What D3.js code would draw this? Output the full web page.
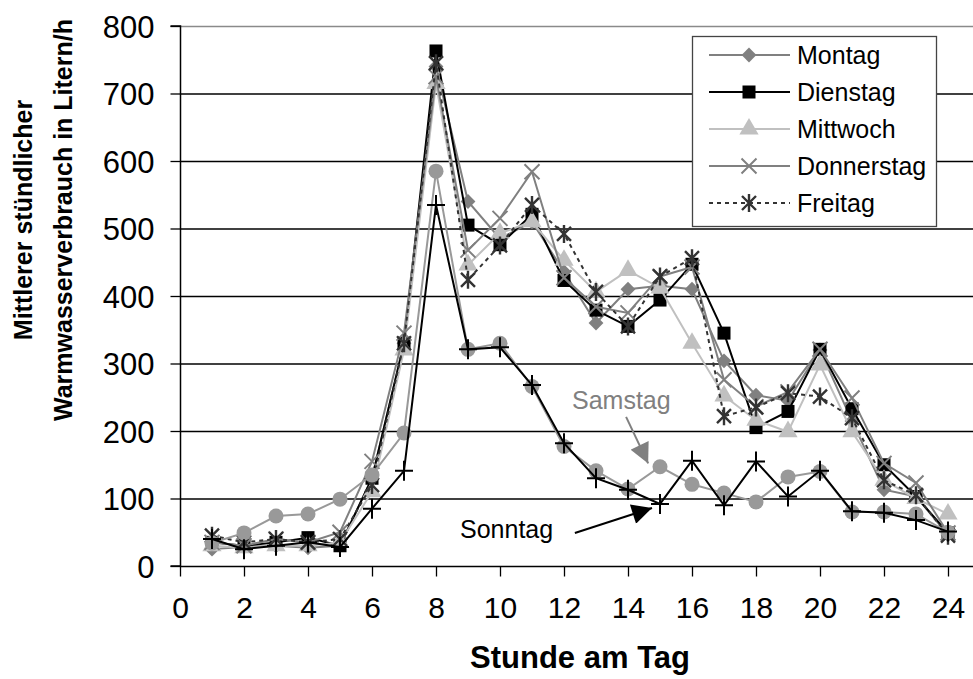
<!DOCTYPE html>
<html lang="de">
<head>
    <meta charset="UTF-8">
    <title>Warmwasserverbrauch</title>
    <script src="https://d3js.org/d3.v7.min.js"></script>
    <style>
        body {
            margin: 0;
            background: #fff;
        }
        svg text {
            font-family: "Liberation Sans", Arial, sans-serif;
        }
    </style>
</head>
<body>
    <div id="my_dataviz"></div>

    <script type="text/javascript">
        // Stunde 1..24
        var hours = d3.range(1, 25);
        var xTicks = [0, 2, 4, 6, 8, 10, 12, 14, 16, 18, 20, 22, 24];
        var yTicks = [0, 100, 200, 300, 400, 500, 600, 700, 800];

        var montag     = [25, 28, 30, 27, 30, 130, 330, 740, 540, 485, 510, 436, 360, 410, 415, 410, 304, 253, 245, 320, 215, 113, 103, 46];
        var dienstag   = [35, 30, 35, 42, 30, 130, 330, 763, 505, 476, 521, 423, 379, 355, 394, 447, 345, 205, 229, 321, 233, 150, 103, 49];
        var mittwoch   = [30, 27, 30, 30, 35, 110, 320, 715, 446, 493, 510, 453, 406, 438, 412, 330, 252, 216, 199, 298, 199, 127, 100, 77];
        var donnerstag = [35, 30, 40, 35, 50, 155, 345, 725, 468, 515, 584, 427, 384, 375, 429, 443, 276, 236, 258, 321, 249, 152, 123, 49];
        var freitag    = [45, 35, 40, 35, 40, 120, 330, 745, 424, 475, 535, 492, 406, 355, 429, 456, 222, 235, 256, 251, 219, 127, 105, 45];
        var samstag    = [34, 49, 74, 77, 99, 135, 197, 585, 321, 330, 266, 177, 141, 114, 147, 121, 108, 95, 132, 140, 80, 80, 77, 50];
        var sonntag    = [40, 25, 30, 35, 28, 85, 141, 535, 321, 324, 268, 182, 130, 113, 92, 156, 90, 155, 103, 141, 81, 79, 68, 51];

        var series = [
            { name: "Montag", values: montag, color: "#808080", dash: null, marker: "diamond", legend: true },
            { name: "Dienstag", values: dienstag, color: "#000000", dash: null, marker: "square", legend: true },
            { name: "Mittwoch", values: mittwoch, color: "#c0c0c0", dash: null, marker: "triangle", legend: true },
            { name: "Donnerstag", values: donnerstag, color: "#808080", dash: null, marker: "x", legend: true },
            { name: "Freitag", values: freitag, color: "#333333", dash: "4,4", marker: "star", legend: true },
            { name: "Samstag", values: samstag, color: "#999999", dash: null, marker: "circle", legend: false },
            { name: "Sonntag", values: sonntag, color: "#000000", dash: null, marker: "plus", legend: false }
        ];

        var W = 973, H = 679;
        var plot = { left: 180, top: 26, right: 973, bottom: 566 };

        var svg = d3.select("#my_dataviz")
            .append("svg")
            .attr("width", W)
            .attr("height", H);

        var x = d3.scaleLinear().domain([0, 24]).range([180, 948]);
        var y = d3.scaleLinear().domain([0, 800]).range([plot.bottom, plot.top]);

        // gridlines
        svg.append("g")
            .selectAll("line")
            .data(yTicks.filter(function (d) { return d > 0; }))
            .enter()
            .append("line")
            .attr("x1", plot.left)
            .attr("x2", plot.right)
            .attr("y1", function (d) { return y(d) + 0.5; })
            .attr("y2", function (d) { return y(d) + 0.5; })
            .attr("stroke", function (d) { return d === 800 ? "#8a8a8a" : "#000"; })
            .attr("stroke-width", 1.3);

        // Y axis
        var yAxis = svg.append("g")
            .attr("transform", "translate(" + (plot.left + 0.5) + ",0)")
            .call(d3.axisLeft(y).tickValues(yTicks).tickSize(10).tickPadding(16));
        yAxis.select(".domain").attr("stroke", "#000").attr("stroke-width", 1.5)
            .attr("d", "M-10," + y(0) + "H0V" + y(800) + "H-10");
        yAxis.selectAll(".tick line").attr("stroke", "#000").attr("stroke-width", 1.3);
        yAxis.selectAll(".tick text")
            .style("font-size", "31px")
            .attr("fill", "#000")
            .attr("dy", "0.36em");

        // X axis
        var xAxis = svg.append("g")
            .attr("transform", "translate(0," + (plot.bottom + 0.5) + ")")
            .call(d3.axisBottom(x).tickValues(xTicks).tickSize(10).tickPadding(20));
        xAxis.select(".domain").attr("stroke", "#000").attr("stroke-width", 1.5)
            .attr("d", "M" + plot.left + ",0H" + plot.right);
        xAxis.selectAll(".tick line").attr("stroke", "#000").attr("stroke-width", 1.3);
        xAxis.selectAll(".tick text")
            .style("font-size", "30px")
            .attr("fill", "#000");

        // axis titles
        svg.append("text")
            .attr("x", 580)
            .attr("y", 668)
            .attr("text-anchor", "middle")
            .style("font-size", "31px")
            .style("font-weight", "bold")
            .text("Stunde am Tag");

        var yTitle = svg.append("text")
            .attr("transform", "translate(32,220) rotate(-90)")
            .attr("text-anchor", "middle")
            .style("font-size", "25px")
            .style("font-weight", "bold");
        yTitle.append("tspan").attr("x", 0).attr("y", 0).text("Mittlerer stündlicher");
        yTitle.append("tspan").attr("x", 0).attr("y", 40).text("Warmwasserverbrauch in Litern/h");

        // marker shapes
        function drawMarker(g, type, color) {
            if (type === "diamond") {
                g.append("path").attr("d", d3.symbol().type(d3.symbolDiamond2).size(140)())
                    .attr("fill", color);
            } else if (type === "square") {
                g.append("rect").attr("x", -6.5).attr("y", -6.5).attr("width", 13).attr("height", 13)
                    .attr("fill", color);
            } else if (type === "triangle") {
                g.append("path").attr("d", d3.symbol().type(d3.symbolTriangle).size(160)())
                    .attr("fill", color);
            } else if (type === "x") {
                g.append("path").attr("d", "M-7.5,-7.5L7.5,7.5M-7.5,7.5L7.5,-7.5")
                    .attr("stroke", color).attr("stroke-width", 2).attr("fill", "none");
            } else if (type === "star") {
                g.append("path").attr("d", "M-7,-7L7,7M-7,7L7,-7M0,-9V9")
                    .attr("stroke", color).attr("stroke-width", 2.4).attr("fill", "none");
            } else if (type === "circle") {
                g.append("circle").attr("r", 7.5).attr("fill", color);
            } else if (type === "plus") {
                g.append("path").attr("d", "M-9,0H9M0,-10V10")
                    .attr("stroke", color).attr("stroke-width", 2).attr("fill", "none");
            }
        }

        var line = d3.line()
            .x(function (d, i) { return x(hours[i]); })
            .y(function (d) { return y(d); });

        series.forEach(function (s) {
            var g = svg.append("g");
            g.append("path")
                .datum(s.values)
                .attr("fill", "none")
                .attr("stroke", s.color)
                .attr("stroke-width", 2)
                .attr("stroke-dasharray", s.dash)
                .attr("d", line);
            g.selectAll(".pt")
                .data(s.values)
                .enter()
                .append("g")
                .attr("transform", function (d, i) { return "translate(" + x(hours[i]) + "," + y(d) + ")"; })
                .each(function () { drawMarker(d3.select(this), s.marker, s.color); });
        });

        // legend
        var legend = svg.append("g");
        legend.append("rect")
            .attr("x", 692.5).attr("y", 36.5)
            .attr("width", 244).attr("height", 190)
            .attr("fill", "#fff")
            .attr("stroke", "#444")
            .attr("stroke-width", 1.3);
        series.filter(function (s) { return s.legend; }).forEach(function (s, i) {
            var ly = 55 + i * 37;
            legend.append("line")
                .attr("x1", 709).attr("x2", 790)
                .attr("y1", ly).attr("y2", ly)
                .attr("stroke", s.color)
                .attr("stroke-width", 2)
                .attr("stroke-dasharray", s.dash);
            var m = legend.append("g").attr("transform", "translate(749," + ly + ")");
            drawMarker(m, s.marker, s.color);
            legend.append("text")
                .attr("x", 797).attr("y", ly)
                .attr("dy", "0.36em")
                .style("font-size", "25px")
                .text(s.name);
        });

        // annotations
        svg.append("defs").selectAll("marker")
            .data([{ id: "arrGray", color: "#808080" }, { id: "arrBlack", color: "#000" }])
            .enter()
            .append("marker")
            .attr("id", function (d) { return d.id; })
            .attr("viewBox", "0 0 10 10")
            .attr("refX", 10).attr("refY", 5)
            .attr("markerUnits", "userSpaceOnUse")
            .attr("markerWidth", 22).attr("markerHeight", 20)
            .attr("orient", "auto")
            .append("path")
            .attr("d", "M0,0L10,5L0,10Z")
            .attr("fill", function (d) { return d.color; });

        svg.append("text")
            .attr("x", x(12.25)).attr("y", y(232))
            .attr("fill", "#808080")
            .style("font-size", "25px")
            .text("Samstag");
        svg.append("line")
            .attr("x1", x(13.94)).attr("y1", y(221))
            .attr("x2", x(14.63)).attr("y2", y(152))
            .attr("stroke", "#808080").attr("stroke-width", 2)
            .attr("marker-end", "url(#arrGray)");

        svg.append("text")
            .attr("x", x(8.75)).attr("y", y(42))
            .attr("fill", "#000")
            .style("font-size", "25px")
            .text("Sonntag");
        svg.append("line")
            .attr("x1", x(12.34)).attr("y1", y(49))
            .attr("x2", x(14.75)).attr("y2", y(86))
            .attr("stroke", "#000").attr("stroke-width", 2)
            .attr("marker-end", "url(#arrBlack)");
    </script>
</body>
</html>
